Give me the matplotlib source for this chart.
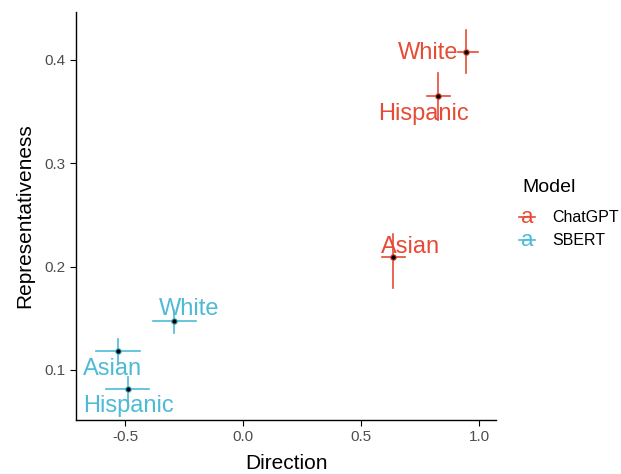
import numpy as np
import matplotlib
matplotlib.use("Agg")
from matplotlib import pyplot as plt
from matplotlib.lines import Line2D

# Values
models = ["ChatGPT", "ChatGPT", "ChatGPT", "SBERT", "SBERT", "SBERT"]
groups = ["White", "Hispanic", "Asian", "White", "Asian", "Hispanic"]
direction = [0.947, 0.828, 0.637, -0.293, -0.531, -0.488]
dir_lo = [0.909, 0.781, 0.590, -0.382, -0.624, -0.582]
dir_hi = [0.994, 0.879, 0.688, -0.200, -0.437, -0.399]
repres = [0.408, 0.365, 0.209, 0.147, 0.118, 0.082]
rep_lo = [0.387, 0.342, 0.179, 0.136, 0.107, 0.069]
rep_hi = [0.429, 0.387, 0.232, 0.158, 0.130, 0.093]
# label anchors (text centre x, baseline y)
label_x = [0.786, 0.764, 0.709, -0.229, -0.556, -0.488]
label_y = [0.401, 0.342, 0.2136, 0.153, 0.0952, 0.0593]

legend_models = ["ChatGPT", "SBERT"]
colors = {"ChatGPT": "#E64B35", "SBERT": "#4DBBD5"}
font = "Liberation Sans"

W, H = 621, 474
fig = plt.figure(figsize=(W / 100, H / 100), dpi=100)
ax = fig.add_axes([0.1224, 0.114, 0.677, 0.861])

for i in range(len(models)):
    c = colors[models[i]]
    ax.plot([dir_lo[i], dir_hi[i]], [repres[i], repres[i]], color=c, lw=1.2)
    ax.plot([direction[i], direction[i]], [rep_lo[i], rep_hi[i]], color=c, lw=1.2)
    ax.plot(direction[i], repres[i], "o", ms=4, mfc="black", mec=c, mew=0.8, zorder=3)
    ax.text(label_x[i], label_y[i], groups[i], color=c, fontsize=17,
            ha="center", va="baseline", family=font)

ax.set_xlim(-0.709, 1.074)
ax.set_ylim(0.0516, 0.4465)
ax.set_xticks([-0.5, 0.0, 0.5, 1.0])
ax.set_yticks([0.1, 0.2, 0.3, 0.4])
ax.set_xticklabels(["-0.5", "0.0", "0.5", "1.0"])
ax.set_yticklabels(["0.1", "0.2", "0.3", "0.4"])
ax.spines["top"].set_visible(False)
ax.spines["right"].set_visible(False)
for s in ["left", "bottom"]:
    ax.spines[s].set_linewidth(1.0)
ax.tick_params(labelsize=11, labelcolor="#4d4d4d", length=4, width=0.8)
for lab in ax.get_xticklabels() + ax.get_yticklabels():
    lab.set_family(font)
ax.set_xlabel("Direction", fontsize=15, family=font, labelpad=7)
ax.set_ylabel("Representativeness", fontsize=15, family=font, labelpad=7)

# Legend, laid out by hand in figure pixels (ggplot-style text keys)
def px(x, y):
    return x / W, 1 - y / H

fig.text(*px(522, 188), "Model", fontsize=14, family=font, va="center", ha="left")
for k, m in enumerate(legend_models):
    y = 217 + 23 * k
    c = colors[m]
    fig.text(*px(527, y + 1), "a", fontsize=16, color=c, family=font,
             ha="center", va="center")
    x0, y0 = px(519, y)
    x1, _ = px(535, y)
    fig.add_artist(Line2D([x0, x1], [y0, y0], color=c, lw=1.2,
                          transform=fig.transFigure))
    fig.text(*px(552, y), m, fontsize=11.5, family=font, va="center", ha="left")

fig.savefig("out.png", dpi=100)
